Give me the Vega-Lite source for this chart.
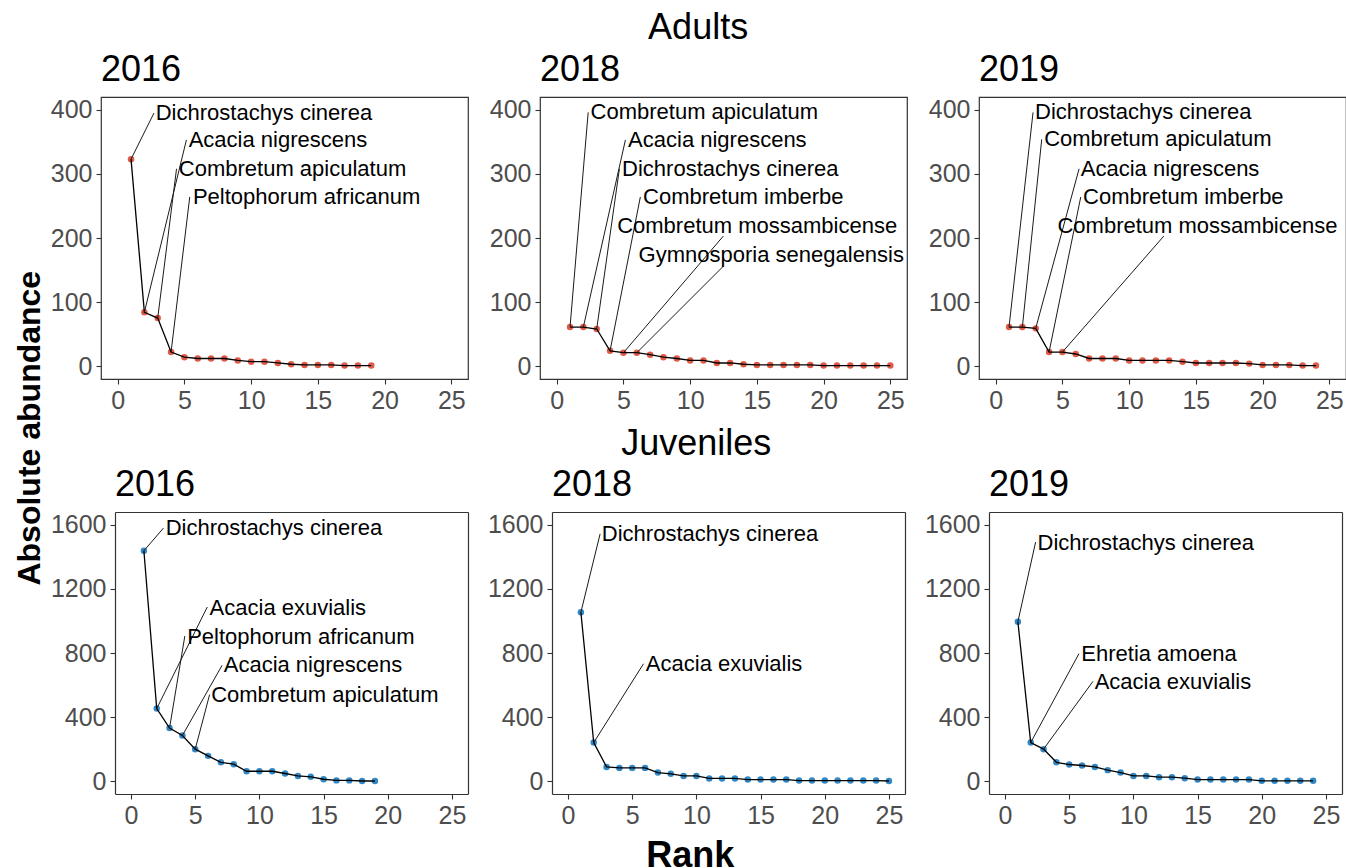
{
  "$schema": "https://vega.github.io/schema/vega-lite/v6.json",
  "padding": {"top": 10, "left": 13, "right": 0, "bottom": 0},
  "background": "white",
  "data": {
    "values": [
      {"stage": "Adults", "year": 2016, "rank": 1, "abundance": 323, "species": "Dichrostachys cinerea", "lx": 2.72, "ly": 395, "tx": 2.85, "ty": 395},
      {"stage": "Adults", "year": 2016, "rank": 2, "abundance": 84, "species": "Acacia nigrescens", "lx": 5.15, "ly": 353, "tx": 5.32, "ty": 353},
      {"stage": "Adults", "year": 2016, "rank": 3, "abundance": 75, "species": "Combretum apiculatum", "lx": 4.41, "ly": 308, "tx": 4.58, "ty": 308},
      {"stage": "Adults", "year": 2016, "rank": 4, "abundance": 22, "species": "Peltophorum africanum", "lx": 5.4, "ly": 264, "tx": 5.64, "ty": 264},
      {"stage": "Adults", "year": 2016, "rank": 5, "abundance": 14},
      {"stage": "Adults", "year": 2016, "rank": 6, "abundance": 12},
      {"stage": "Adults", "year": 2016, "rank": 7, "abundance": 12},
      {"stage": "Adults", "year": 2016, "rank": 8, "abundance": 12},
      {"stage": "Adults", "year": 2016, "rank": 9, "abundance": 9},
      {"stage": "Adults", "year": 2016, "rank": 10, "abundance": 7},
      {"stage": "Adults", "year": 2016, "rank": 11, "abundance": 7},
      {"stage": "Adults", "year": 2016, "rank": 12, "abundance": 5},
      {"stage": "Adults", "year": 2016, "rank": 13, "abundance": 3},
      {"stage": "Adults", "year": 2016, "rank": 14, "abundance": 2},
      {"stage": "Adults", "year": 2016, "rank": 15, "abundance": 2},
      {"stage": "Adults", "year": 2016, "rank": 16, "abundance": 2},
      {"stage": "Adults", "year": 2016, "rank": 17, "abundance": 1},
      {"stage": "Adults", "year": 2016, "rank": 18, "abundance": 1},
      {"stage": "Adults", "year": 2016, "rank": 19, "abundance": 1},

      {"stage": "Adults", "year": 2018, "rank": 1, "abundance": 61, "species": "Combretum apiculatum", "lx": 2.36, "ly": 396, "tx": 2.54, "ty": 396},
      {"stage": "Adults", "year": 2018, "rank": 2, "abundance": 61, "species": "Acacia nigrescens", "lx": 5.15, "ly": 353, "tx": 5.35, "ty": 353},
      {"stage": "Adults", "year": 2018, "rank": 3, "abundance": 58, "species": "Dichrostachys cinerea", "lx": 4.7, "ly": 308, "tx": 4.9, "ty": 308},
      {"stage": "Adults", "year": 2018, "rank": 4, "abundance": 24, "species": "Combretum imberbe", "lx": 6.27, "ly": 264, "tx": 6.47, "ty": 264},
      {"stage": "Adults", "year": 2018, "rank": 5, "abundance": 21, "species": "Combretum mossambicense", "lx": 12.49, "ly": 203, "tx": 4.53, "ty": 218},
      {"stage": "Adults", "year": 2018, "rank": 6, "abundance": 21, "species": "Gymnosporia senegalensis", "lx": 12.49, "ly": 156, "tx": 6.14, "ty": 174},
      {"stage": "Adults", "year": 2018, "rank": 7, "abundance": 18},
      {"stage": "Adults", "year": 2018, "rank": 8, "abundance": 14},
      {"stage": "Adults", "year": 2018, "rank": 9, "abundance": 12},
      {"stage": "Adults", "year": 2018, "rank": 10, "abundance": 9},
      {"stage": "Adults", "year": 2018, "rank": 11, "abundance": 9},
      {"stage": "Adults", "year": 2018, "rank": 12, "abundance": 5},
      {"stage": "Adults", "year": 2018, "rank": 13, "abundance": 5},
      {"stage": "Adults", "year": 2018, "rank": 14, "abundance": 3},
      {"stage": "Adults", "year": 2018, "rank": 15, "abundance": 2},
      {"stage": "Adults", "year": 2018, "rank": 16, "abundance": 2},
      {"stage": "Adults", "year": 2018, "rank": 17, "abundance": 2},
      {"stage": "Adults", "year": 2018, "rank": 18, "abundance": 2},
      {"stage": "Adults", "year": 2018, "rank": 19, "abundance": 2},
      {"stage": "Adults", "year": 2018, "rank": 20, "abundance": 1},
      {"stage": "Adults", "year": 2018, "rank": 21, "abundance": 1},
      {"stage": "Adults", "year": 2018, "rank": 22, "abundance": 1},
      {"stage": "Adults", "year": 2018, "rank": 23, "abundance": 1},
      {"stage": "Adults", "year": 2018, "rank": 24, "abundance": 1},
      {"stage": "Adults", "year": 2018, "rank": 25, "abundance": 1},

      {"stage": "Adults", "year": 2019, "rank": 1, "abundance": 61, "species": "Dichrostachys cinerea", "lx": 2.8, "ly": 396, "tx": 2.95, "ty": 396},
      {"stage": "Adults", "year": 2019, "rank": 2, "abundance": 61, "species": "Combretum apiculatum", "lx": 3.45, "ly": 354, "tx": 3.63, "ty": 354},
      {"stage": "Adults", "year": 2019, "rank": 3, "abundance": 59, "species": "Acacia nigrescens", "lx": 6.25, "ly": 308, "tx": 6.38, "ty": 308},
      {"stage": "Adults", "year": 2019, "rank": 4, "abundance": 22, "species": "Combretum imberbe", "lx": 6.375, "ly": 264, "tx": 6.55, "ty": 264},
      {"stage": "Adults", "year": 2019, "rank": 5, "abundance": 22, "species": "Combretum mossambicense", "lx": 12.6, "ly": 203, "tx": 4.63, "ty": 219},
      {"stage": "Adults", "year": 2019, "rank": 6, "abundance": 19},
      {"stage": "Adults", "year": 2019, "rank": 7, "abundance": 12},
      {"stage": "Adults", "year": 2019, "rank": 8, "abundance": 12},
      {"stage": "Adults", "year": 2019, "rank": 9, "abundance": 12},
      {"stage": "Adults", "year": 2019, "rank": 10, "abundance": 9},
      {"stage": "Adults", "year": 2019, "rank": 11, "abundance": 9},
      {"stage": "Adults", "year": 2019, "rank": 12, "abundance": 9},
      {"stage": "Adults", "year": 2019, "rank": 13, "abundance": 9},
      {"stage": "Adults", "year": 2019, "rank": 14, "abundance": 7},
      {"stage": "Adults", "year": 2019, "rank": 15, "abundance": 5},
      {"stage": "Adults", "year": 2019, "rank": 16, "abundance": 5},
      {"stage": "Adults", "year": 2019, "rank": 17, "abundance": 5},
      {"stage": "Adults", "year": 2019, "rank": 18, "abundance": 5},
      {"stage": "Adults", "year": 2019, "rank": 19, "abundance": 4},
      {"stage": "Adults", "year": 2019, "rank": 20, "abundance": 2},
      {"stage": "Adults", "year": 2019, "rank": 21, "abundance": 2},
      {"stage": "Adults", "year": 2019, "rank": 22, "abundance": 2},
      {"stage": "Adults", "year": 2019, "rank": 23, "abundance": 1},
      {"stage": "Adults", "year": 2019, "rank": 24, "abundance": 1},

      {"stage": "Juveniles", "year": 2016, "rank": 1, "abundance": 1438, "species": "Dichrostachys cinerea", "lx": 2.52, "ly": 1579, "tx": 2.7, "ty": 1583},
      {"stage": "Juveniles", "year": 2016, "rank": 2, "abundance": 453, "species": "Acacia exuvialis", "lx": 5.94, "ly": 1087, "tx": 6.12, "ty": 1080},
      {"stage": "Juveniles", "year": 2016, "rank": 3, "abundance": 332, "species": "Peltophorum africanum", "lx": 4.19, "ly": 906, "tx": 4.37, "ty": 900},
      {"stage": "Juveniles", "year": 2016, "rank": 4, "abundance": 285, "species": "Acacia nigrescens", "lx": 7.09, "ly": 723, "tx": 7.22, "ty": 723},
      {"stage": "Juveniles", "year": 2016, "rank": 5, "abundance": 200, "species": "Combretum apiculatum", "lx": 6.12, "ly": 540, "tx": 6.24, "ty": 540},
      {"stage": "Juveniles", "year": 2016, "rank": 6, "abundance": 158},
      {"stage": "Juveniles", "year": 2016, "rank": 7, "abundance": 118},
      {"stage": "Juveniles", "year": 2016, "rank": 8, "abundance": 106},
      {"stage": "Juveniles", "year": 2016, "rank": 9, "abundance": 62},
      {"stage": "Juveniles", "year": 2016, "rank": 10, "abundance": 62},
      {"stage": "Juveniles", "year": 2016, "rank": 11, "abundance": 62},
      {"stage": "Juveniles", "year": 2016, "rank": 12, "abundance": 48},
      {"stage": "Juveniles", "year": 2016, "rank": 13, "abundance": 33},
      {"stage": "Juveniles", "year": 2016, "rank": 14, "abundance": 27},
      {"stage": "Juveniles", "year": 2016, "rank": 15, "abundance": 12},
      {"stage": "Juveniles", "year": 2016, "rank": 16, "abundance": 5},
      {"stage": "Juveniles", "year": 2016, "rank": 17, "abundance": 5},
      {"stage": "Juveniles", "year": 2016, "rank": 18, "abundance": 1},
      {"stage": "Juveniles", "year": 2016, "rank": 19, "abundance": 1},

      {"stage": "Juveniles", "year": 2018, "rank": 1, "abundance": 1054, "species": "Dichrostachys cinerea", "lx": 2.5, "ly": 1544, "tx": 2.63, "ty": 1540},
      {"stage": "Juveniles", "year": 2018, "rank": 2, "abundance": 241, "species": "Acacia exuvialis", "lx": 5.88, "ly": 733, "tx": 6.06, "ty": 729},
      {"stage": "Juveniles", "year": 2018, "rank": 3, "abundance": 89},
      {"stage": "Juveniles", "year": 2018, "rank": 4, "abundance": 83},
      {"stage": "Juveniles", "year": 2018, "rank": 5, "abundance": 83},
      {"stage": "Juveniles", "year": 2018, "rank": 6, "abundance": 83},
      {"stage": "Juveniles", "year": 2018, "rank": 7, "abundance": 54},
      {"stage": "Juveniles", "year": 2018, "rank": 8, "abundance": 46},
      {"stage": "Juveniles", "year": 2018, "rank": 9, "abundance": 33},
      {"stage": "Juveniles", "year": 2018, "rank": 10, "abundance": 33},
      {"stage": "Juveniles", "year": 2018, "rank": 11, "abundance": 17},
      {"stage": "Juveniles", "year": 2018, "rank": 12, "abundance": 17},
      {"stage": "Juveniles", "year": 2018, "rank": 13, "abundance": 17},
      {"stage": "Juveniles", "year": 2018, "rank": 14, "abundance": 10},
      {"stage": "Juveniles", "year": 2018, "rank": 15, "abundance": 10},
      {"stage": "Juveniles", "year": 2018, "rank": 16, "abundance": 10},
      {"stage": "Juveniles", "year": 2018, "rank": 17, "abundance": 10},
      {"stage": "Juveniles", "year": 2018, "rank": 18, "abundance": 4},
      {"stage": "Juveniles", "year": 2018, "rank": 19, "abundance": 4},
      {"stage": "Juveniles", "year": 2018, "rank": 20, "abundance": 4},
      {"stage": "Juveniles", "year": 2018, "rank": 21, "abundance": 4},
      {"stage": "Juveniles", "year": 2018, "rank": 22, "abundance": 4},
      {"stage": "Juveniles", "year": 2018, "rank": 23, "abundance": 4},
      {"stage": "Juveniles", "year": 2018, "rank": 24, "abundance": 4},
      {"stage": "Juveniles", "year": 2018, "rank": 25, "abundance": 1},

      {"stage": "Juveniles", "year": 2019, "rank": 1, "abundance": 995, "species": "Dichrostachys cinerea", "lx": 2.38, "ly": 1492, "tx": 2.53, "ty": 1488},
      {"stage": "Juveniles", "year": 2019, "rank": 2, "abundance": 241, "species": "Ehretia amoena", "lx": 5.76, "ly": 796, "tx": 5.94, "ty": 792},
      {"stage": "Juveniles", "year": 2019, "rank": 3, "abundance": 200, "species": "Acacia exuvialis", "lx": 6.85, "ly": 623, "tx": 6.98, "ty": 620},
      {"stage": "Juveniles", "year": 2019, "rank": 4, "abundance": 118},
      {"stage": "Juveniles", "year": 2019, "rank": 5, "abundance": 104},
      {"stage": "Juveniles", "year": 2019, "rank": 6, "abundance": 98},
      {"stage": "Juveniles", "year": 2019, "rank": 7, "abundance": 89},
      {"stage": "Juveniles", "year": 2019, "rank": 8, "abundance": 69},
      {"stage": "Juveniles", "year": 2019, "rank": 9, "abundance": 54},
      {"stage": "Juveniles", "year": 2019, "rank": 10, "abundance": 33},
      {"stage": "Juveniles", "year": 2019, "rank": 11, "abundance": 33},
      {"stage": "Juveniles", "year": 2019, "rank": 12, "abundance": 25},
      {"stage": "Juveniles", "year": 2019, "rank": 13, "abundance": 25},
      {"stage": "Juveniles", "year": 2019, "rank": 14, "abundance": 19},
      {"stage": "Juveniles", "year": 2019, "rank": 15, "abundance": 10},
      {"stage": "Juveniles", "year": 2019, "rank": 16, "abundance": 10},
      {"stage": "Juveniles", "year": 2019, "rank": 17, "abundance": 10},
      {"stage": "Juveniles", "year": 2019, "rank": 18, "abundance": 10},
      {"stage": "Juveniles", "year": 2019, "rank": 19, "abundance": 10},
      {"stage": "Juveniles", "year": 2019, "rank": 20, "abundance": 2},
      {"stage": "Juveniles", "year": 2019, "rank": 21, "abundance": 2},
      {"stage": "Juveniles", "year": 2019, "rank": 22, "abundance": 2},
      {"stage": "Juveniles", "year": 2019, "rank": 23, "abundance": 2},
      {"stage": "Juveniles", "year": 2019, "rank": 24, "abundance": 2}
    ]
  },
  "title": {"text": "Rank", "orient": "bottom", "anchor": "middle", "frame": "bounds", "fontSize": 36, "fontWeight": "bold", "offset": 11, "dx": 10},
  "vconcat": [
    {
      "title": {"text": "Absolute abundance", "orient": "left", "anchor": "middle", "frame": "bounds", "fontSize": 32, "fontWeight": "bold", "offset": 3, "dx": -9},
      "columns": 1,
      "align": "none",
      "spacing": 12,
      "concat": [
        {
          "title": {"text": "Adults", "anchor": "middle", "frame": "bounds", "fontSize": 36, "offset": 4},
          "spacing": 19,
          "hconcat": [
            {
              "title": {"text": "2016"},
              "width": 367, "height": 282,
              "transform": [{"filter": "datum.stage === 'Adults' && datum.year === 2016"}],
              "encoding": {
                "x": {"field": "rank", "type": "quantitative", "title": null, "scale": {"domain": [-1.25, 26.25], "nice": false, "zero": false}, "axis": {"values": [0, 5, 10, 15, 20, 25]}},
                "y": {"field": "abundance", "type": "quantitative", "title": null, "scale": {"domain": [-20, 420], "nice": false, "zero": false}, "axis": {"values": [0, 100, 200, 300, 400]}}
              },
              "layer": [
                {"mark": {"type": "circle", "size": 42, "opacity": 1, "color": "#E05A48"}},
                {"mark": {"type": "line", "color": "black", "strokeWidth": 1.3}},
                {"transform": [{"filter": "isValid(datum.species)"}], "mark": {"type": "rule", "color": "#1a1a1a", "strokeWidth": 1}, "encoding": {"x2": {"field": "lx"}, "y2": {"field": "ly"}}},
                {"transform": [{"filter": "isValid(datum.species)"}], "mark": {"type": "text", "align": "left", "baseline": "middle", "fontSize": 22, "color": "black"}, "encoding": {"x": {"field": "tx", "type": "quantitative", "title": null}, "y": {"field": "ty", "type": "quantitative", "title": null}, "text": {"field": "species"}}}
              ]
            },
            {
              "title": {"text": "2018"},
              "width": 367, "height": 282,
              "transform": [{"filter": "datum.stage === 'Adults' && datum.year === 2018"}],
              "encoding": {
                "x": {"field": "rank", "type": "quantitative", "title": null, "scale": {"domain": [-1.25, 26.25], "nice": false, "zero": false}, "axis": {"values": [0, 5, 10, 15, 20, 25]}},
                "y": {"field": "abundance", "type": "quantitative", "title": null, "scale": {"domain": [-20, 420], "nice": false, "zero": false}, "axis": {"values": [0, 100, 200, 300, 400]}}
              },
              "layer": [
                {"mark": {"type": "circle", "size": 42, "opacity": 1, "color": "#E05A48"}},
                {"mark": {"type": "line", "color": "black", "strokeWidth": 1.3}},
                {"transform": [{"filter": "isValid(datum.species)"}], "mark": {"type": "rule", "color": "#1a1a1a", "strokeWidth": 1}, "encoding": {"x2": {"field": "lx"}, "y2": {"field": "ly"}}},
                {"transform": [{"filter": "isValid(datum.species)"}], "mark": {"type": "text", "align": "left", "baseline": "middle", "fontSize": 22, "color": "black"}, "encoding": {"x": {"field": "tx", "type": "quantitative", "title": null}, "y": {"field": "ty", "type": "quantitative", "title": null}, "text": {"field": "species"}}}
              ]
            },
            {
              "title": {"text": "2019"},
              "width": 367, "height": 282,
              "transform": [{"filter": "datum.stage === 'Adults' && datum.year === 2019"}],
              "encoding": {
                "x": {"field": "rank", "type": "quantitative", "title": null, "scale": {"domain": [-1.25, 26.25], "nice": false, "zero": false}, "axis": {"values": [0, 5, 10, 15, 20, 25]}},
                "y": {"field": "abundance", "type": "quantitative", "title": null, "scale": {"domain": [-20, 420], "nice": false, "zero": false}, "axis": {"values": [0, 100, 200, 300, 400]}}
              },
              "layer": [
                {"mark": {"type": "circle", "size": 42, "opacity": 1, "color": "#E05A48"}},
                {"mark": {"type": "line", "color": "black", "strokeWidth": 1.3}},
                {"transform": [{"filter": "isValid(datum.species)"}], "mark": {"type": "rule", "color": "#1a1a1a", "strokeWidth": 1}, "encoding": {"x2": {"field": "lx"}, "y2": {"field": "ly"}}},
                {"transform": [{"filter": "isValid(datum.species)"}], "mark": {"type": "text", "align": "left", "baseline": "middle", "fontSize": 22, "color": "black"}, "encoding": {"x": {"field": "tx", "type": "quantitative", "title": null}, "y": {"field": "ty", "type": "quantitative", "title": null}, "text": {"field": "species"}}}
              ]
            }
          ]
        },
        {
          "title": {"text": "Juveniles", "anchor": "middle", "frame": "bounds", "fontSize": 36, "offset": 4},
          "spacing": 19,
          "hconcat": [
            {
              "title": {"text": "2016", "dx": 14},
              "width": 367, "height": 282,
              "view": {"stroke": null},
              "transform": [{"filter": "datum.stage === 'Juveniles' && datum.year === 2016"}],
              "layer": [
                {
                  "encoding": {
                    "x": {"field": "rank", "type": "quantitative", "title": null, "scale": {"domain": [-1.25, 26.25], "range": [14, 367], "nice": false, "zero": false}, "axis": {"values": [0, 5, 10, 15, 20, 25], "domain": true}},
                    "y": {"field": "abundance", "type": "quantitative", "title": null, "scale": {"domain": [-80, 1680], "nice": false, "zero": false}, "axis": {"values": [0, 400, 800, 1200, 1600], "format": "d", "offset": -14, "domain": true}}
                  },
                  "layer": [
                    {"mark": {"type": "circle", "size": 42, "opacity": 1, "color": "#3288C4"}},
                    {"mark": {"type": "line", "color": "black", "strokeWidth": 1.3}},
                    {"transform": [{"filter": "isValid(datum.species)"}], "mark": {"type": "rule", "color": "#1a1a1a", "strokeWidth": 1}, "encoding": {"x2": {"field": "lx"}, "y2": {"field": "ly"}}},
                    {"transform": [{"filter": "isValid(datum.species)"}], "mark": {"type": "text", "align": "left", "baseline": "middle", "fontSize": 22, "color": "black"}, "encoding": {"x": {"field": "tx", "type": "quantitative", "title": null}, "y": {"field": "ty", "type": "quantitative", "title": null}, "text": {"field": "species"}}}
                  ]
                },
                {
                  "mark": {"type": "point", "opacity": 0},
                  "encoding": {
                    "x": {"field": "rank", "type": "quantitative", "title": null, "axis": {"orient": "top", "labels": false, "ticks": false, "domain": true}},
                    "y": {"field": "abundance", "type": "quantitative", "title": null, "axis": {"orient": "right", "labels": false, "ticks": false, "domain": true}}
                  }
                }
              ],
              "resolve": {"axis": {"x": "independent", "y": "independent"}}
            },
            {
              "title": {"text": "2018", "dx": 14},
              "width": 367, "height": 282,
              "view": {"stroke": null},
              "transform": [{"filter": "datum.stage === 'Juveniles' && datum.year === 2018"}],
              "layer": [
                {
                  "encoding": {
                    "x": {"field": "rank", "type": "quantitative", "title": null, "scale": {"domain": [-1.25, 26.25], "range": [14, 367], "nice": false, "zero": false}, "axis": {"values": [0, 5, 10, 15, 20, 25], "domain": true}},
                    "y": {"field": "abundance", "type": "quantitative", "title": null, "scale": {"domain": [-80, 1680], "nice": false, "zero": false}, "axis": {"values": [0, 400, 800, 1200, 1600], "format": "d", "offset": -14, "domain": true}}
                  },
                  "layer": [
                    {"mark": {"type": "circle", "size": 42, "opacity": 1, "color": "#3288C4"}},
                    {"mark": {"type": "line", "color": "black", "strokeWidth": 1.3}},
                    {"transform": [{"filter": "isValid(datum.species)"}], "mark": {"type": "rule", "color": "#1a1a1a", "strokeWidth": 1}, "encoding": {"x2": {"field": "lx"}, "y2": {"field": "ly"}}},
                    {"transform": [{"filter": "isValid(datum.species)"}], "mark": {"type": "text", "align": "left", "baseline": "middle", "fontSize": 22, "color": "black"}, "encoding": {"x": {"field": "tx", "type": "quantitative", "title": null}, "y": {"field": "ty", "type": "quantitative", "title": null}, "text": {"field": "species"}}}
                  ]
                },
                {
                  "mark": {"type": "point", "opacity": 0},
                  "encoding": {
                    "x": {"field": "rank", "type": "quantitative", "title": null, "axis": {"orient": "top", "labels": false, "ticks": false, "domain": true}},
                    "y": {"field": "abundance", "type": "quantitative", "title": null, "axis": {"orient": "right", "labels": false, "ticks": false, "domain": true}}
                  }
                }
              ],
              "resolve": {"axis": {"x": "independent", "y": "independent"}}
            },
            {
              "title": {"text": "2019", "dx": 14},
              "width": 367, "height": 282,
              "view": {"stroke": null},
              "transform": [{"filter": "datum.stage === 'Juveniles' && datum.year === 2019"}],
              "layer": [
                {
                  "encoding": {
                    "x": {"field": "rank", "type": "quantitative", "title": null, "scale": {"domain": [-1.25, 26.25], "range": [14, 367], "nice": false, "zero": false}, "axis": {"values": [0, 5, 10, 15, 20, 25], "domain": true}},
                    "y": {"field": "abundance", "type": "quantitative", "title": null, "scale": {"domain": [-80, 1680], "nice": false, "zero": false}, "axis": {"values": [0, 400, 800, 1200, 1600], "format": "d", "offset": -14, "domain": true}}
                  },
                  "layer": [
                    {"mark": {"type": "circle", "size": 42, "opacity": 1, "color": "#3288C4"}},
                    {"mark": {"type": "line", "color": "black", "strokeWidth": 1.3}},
                    {"transform": [{"filter": "isValid(datum.species)"}], "mark": {"type": "rule", "color": "#1a1a1a", "strokeWidth": 1}, "encoding": {"x2": {"field": "lx"}, "y2": {"field": "ly"}}},
                    {"transform": [{"filter": "isValid(datum.species)"}], "mark": {"type": "text", "align": "left", "baseline": "middle", "fontSize": 22, "color": "black"}, "encoding": {"x": {"field": "tx", "type": "quantitative", "title": null}, "y": {"field": "ty", "type": "quantitative", "title": null}, "text": {"field": "species"}}}
                  ]
                },
                {
                  "mark": {"type": "point", "opacity": 0},
                  "encoding": {
                    "x": {"field": "rank", "type": "quantitative", "title": null, "axis": {"orient": "top", "labels": false, "ticks": false, "domain": true}},
                    "y": {"field": "abundance", "type": "quantitative", "title": null, "axis": {"orient": "right", "labels": false, "ticks": false, "domain": true}}
                  }
                }
              ],
              "resolve": {"axis": {"x": "independent", "y": "independent"}}
            }
          ]
        }
      ]
    }
  ],
  "config": {
    "font": "Liberation Sans",
    "view": {"stroke": "#333333", "strokeWidth": 1.2},
    "axis": {"grid": false, "domain": false, "domainColor": "#333333", "domainWidth": 1.2, "ticks": true, "tickColor": "#333333", "tickSize": 5, "tickWidth": 1.1, "labelFontSize": 25, "labelColor": "#4d4d4d", "labelPadding": 4, "labelFont": "Liberation Sans", "labelFlush": false, "labelOverlap": false, "minExtent": 0},
    "title": {"fontSize": 36, "fontWeight": "normal", "anchor": "start", "frame": "group", "color": "black", "font": "Liberation Sans", "offset": 8}
  }
}
